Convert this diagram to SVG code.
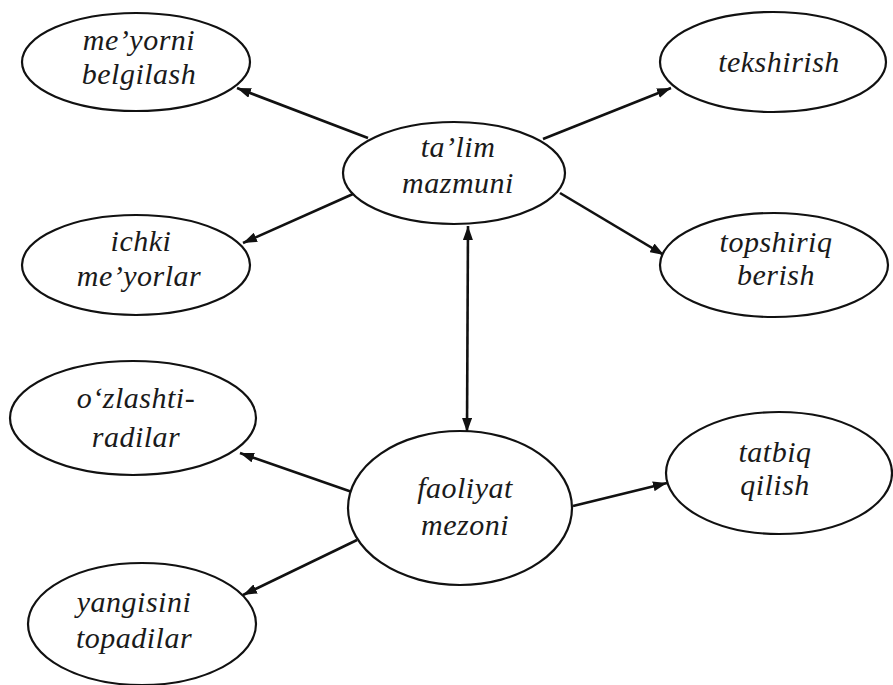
<svg xmlns="http://www.w3.org/2000/svg" width="893" height="685" viewBox="0 0 893 685">
<style>
.node ellipse{fill:#fff;stroke:#111;stroke-width:2.2}
.node text{font-family:"Liberation Serif","Times New Roman",serif;font-style:italic;font-size:30px;fill:#1a1a1a;text-anchor:middle;letter-spacing:0.5px}
.conn line{stroke:#111;stroke-width:2.6}
</style>
<defs>
<marker id="ah" viewBox="0 0 14 10" refX="14" refY="5" markerWidth="14" markerHeight="10" markerUnits="userSpaceOnUse" orient="auto-start-reverse">
<path d="M0,0 L14,5 L0,10 z" fill="#111"/>
</marker>
</defs>
<rect width="893" height="685" fill="#fff"/>
<g class="conn" id="connectors">
<line x1="368" y1="138" x2="237" y2="88" marker-end="url(#ah)"/>
<line x1="543" y1="139" x2="671" y2="88" marker-end="url(#ah)"/>
<line x1="353" y1="194" x2="243" y2="243" marker-end="url(#ah)"/>
<line x1="560" y1="193" x2="664" y2="255" marker-end="url(#ah)"/>
<line x1="468" y1="226" x2="467" y2="432" marker-start="url(#ah)" marker-end="url(#ah)"/>
<line x1="352" y1="492" x2="240" y2="453" marker-end="url(#ah)"/>
<line x1="357" y1="540" x2="243" y2="595" marker-end="url(#ah)"/>
<line x1="573" y1="506" x2="667" y2="483" marker-end="url(#ah)"/>
</g>
<g class="node" id="n-meyorni"><ellipse cx="136" cy="62" rx="114" ry="49"/><text x="139" y="50">me’yorni</text><text x="139" y="84">belgilash</text></g>
<g class="node" id="n-tekshirish"><ellipse cx="773" cy="62" rx="113" ry="50"/><text x="779" y="72">tekshirish</text></g>
<g class="node" id="n-talim"><ellipse cx="454" cy="173" rx="111" ry="51"/><text x="458" y="157">ta’lim</text><text x="458" y="193">mazmuni</text></g>
<g class="node" id="n-ichki"><ellipse cx="136" cy="265" rx="114" ry="50"/><text x="141" y="251">ichki</text><text x="139" y="286">me’yorlar</text></g>
<g class="node" id="n-topshiriq"><ellipse cx="774" cy="265" rx="114" ry="52"/><text x="776" y="252">topshiriq</text><text x="776" y="285">berish</text></g>
<g class="node" id="n-ozlashti"><ellipse cx="133" cy="418" rx="123" ry="57"/><text x="136" y="408">o‘zlashti-</text><text x="136" y="447">radilar</text></g>
<g class="node" id="n-faoliyat"><ellipse cx="460" cy="508" rx="112" ry="77"/><text x="465" y="498">faoliyat</text><text x="465" y="535">mezoni</text></g>
<g class="node" id="n-tatbiq"><ellipse cx="779" cy="473" rx="113" ry="61"/><text x="775" y="462">tatbiq</text><text x="775" y="495">qilish</text></g>
<g class="node" id="n-yangisini"><ellipse cx="142" cy="624" rx="114" ry="61"/><text x="134" y="612">yangisini</text><text x="134" y="648">topadilar</text></g>
</svg>
